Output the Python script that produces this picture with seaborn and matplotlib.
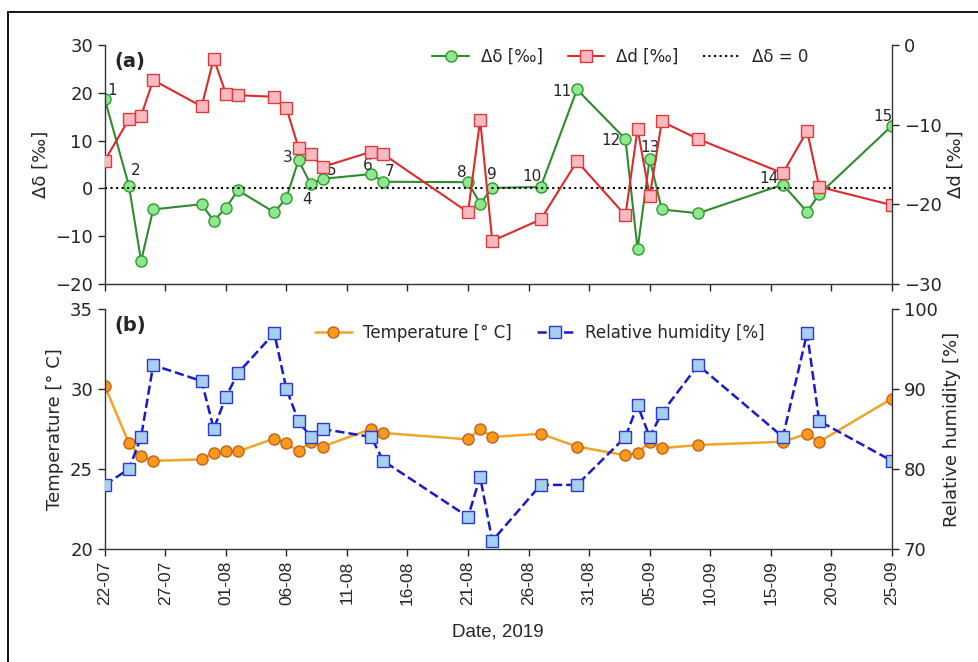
import numpy as np
import pandas as pd
import matplotlib
matplotlib.use("Agg")
import matplotlib.pyplot as plt
import matplotlib.dates as mdates
from matplotlib.patches import Rectangle
import seaborn as sns

#%% data
dates = ['2019-07-22', '2019-07-24', '2019-07-25', '2019-07-26', '2019-07-30',
         '2019-07-31', '2019-08-01', '2019-08-02', '2019-08-05', '2019-08-06',
         '2019-08-07', '2019-08-08', '2019-08-09', '2019-08-13', '2019-08-14',
         '2019-08-21', '2019-08-22', '2019-08-23', '2019-08-27', '2019-08-30',
         '2019-09-03', '2019-09-04', '2019-09-05', '2019-09-06', '2019-09-09',
         '2019-09-16', '2019-09-18', '2019-09-19', '2019-09-25']

d_delta = [18.7, 0.5, -15.2, -4.4, -3.3, -6.8, -4.1, -0.4, -5.0, -2.0,
           5.9, 0.9, 2.0, 3.0, 1.4, 1.3, -3.2, 0.1, 0.3, 20.7,
           10.3, -12.7, 6.2, -4.4, -5.2, 0.8, -4.9, -1.2, 13.1]

d_dexc = [-14.5, -9.3, -8.9, -4.4, -7.7, -1.7, -6.1, -6.3, -6.5, -7.9,
          -12.9, -13.7, -15.3, -13.4, -13.7, -21.0, -9.4, -24.6, -21.9, -14.6,
          -21.4, -10.5, -19.0, -9.6, -11.8, -16.1, -10.8, -17.8, -20.1]

temp = [30.2, 26.6, 25.8, 25.5, 25.6, 26.0, 26.1, 26.1, 26.9, 26.6,
        26.1, 26.7, 26.4, 27.5, 27.25, 26.85, 27.5, 27.0, 27.2, 26.4,
        25.85, 26.0, 26.7, 26.3, 26.5, 26.7, 27.2, 26.7, 29.4]

rh = [78, 80, 84, 93, 91, 85, 89, 92, 97, 90,
      86, 84, 85, 84, 81, 74, 79, 71, 78, 78,
      84, 88, 84, 87, 93, 84, 97, 86, 81]

# numbered sample labels: point index, label, offset in pixels
lab_idx = [0, 1, 10, 11, 12, 13, 14, 15, 17, 18, 19, 20, 22, 25, 28]
lab_txt = [str(i + 1) for i in range(15)]
lab_off = [(7, 9), (7, 16), (-11, 3), (-4, -15), (9, 8), (-3, 9), (6, 10),
           (-6, 10), (0, 13), (-9, 10), (-15, -2), (-15, -1), (0, 11),
           (-14, 6), (-9, 9)]

df = pd.DataFrame({'date': pd.to_datetime(dates), 'dd': d_delta,
                   'dx': d_dexc, 'T': temp, 'RH': rh})

#%% style
sns.set_style("ticks")
plt.rcParams['font.family'] = ['DejaVu Sans']
tfs = 13
ms = 8

fig = plt.figure(figsize=(9.79, 6.62), dpi=100)
ax1 = fig.add_axes([0.107, 0.571, 0.804, 0.361])
ax2 = fig.add_axes([0.107, 0.171, 0.804, 0.362], sharex=ax1)
ax1b = ax1.twinx()
ax2b = ax2.twinx()

#%% panel (a)
sns.lineplot(data=df, x='date', y='dd', ax=ax1, color='#2e8b2e', lw=1.5,
             marker='o', markersize=ms, markerfacecolor='#8fe88f',
             markeredgecolor='#2e9b2e', markeredgewidth=1.0,
             label='\u0394\u03b4 [\u2030]', legend=False)
sns.lineplot(data=df, x='date', y='dx', ax=ax1b, color='#dd2a2a', lw=1.5,
             marker='s', markersize=ms, markerfacecolor='#f9b9c0',
             markeredgecolor='#dd3a3a', markeredgewidth=1.0,
             label='\u0394d [\u2030]', legend=False)
zl = ax1.axhline(0, color='black', ls=':', lw=1.5, label='\u0394\u03b4 = 0')

for i, t, o in zip(lab_idx, lab_txt, lab_off):
    ax1.annotate(t, (df['date'][i], df['dd'][i]), xytext=o,
                 textcoords='offset pixels', ha='center', va='center',
                 fontsize=11)

ax1.set_ylim(-20, 30)
ax1b.set_ylim(-30, 0)
ax1.set_yticks([-20, -10, 0, 10, 20, 30])
ax1b.set_yticks([-30, -20, -10, 0])
ax1.set_ylabel('\u0394\u03b4 [\u2030]', fontsize=tfs)
ax1b.set_ylabel('\u0394d [\u2030]', fontsize=tfs)
ax1.text(0.012, 0.97, '(a)', transform=ax1.transAxes, fontsize=14,
         fontweight='bold', va='top')

h1, l1 = ax1.get_legend_handles_labels()
h2, l2 = ax1b.get_legend_handles_labels()
hh = [h1[0], h2[0], zl]
ll = [l1[0], l2[0], zl.get_label()]
ax1.legend(hh, ll, loc='upper center', bbox_to_anchor=(0.655, 1.05), ncol=3,
           frameon=False, fontsize=12, columnspacing=1.5, handlelength=2.2,
           handletextpad=0.7)

#%% panel (b)
sns.lineplot(data=df, x='date', y='T', ax=ax2, color='#f0a428', lw=1.8,
             marker='o', markersize=ms, markerfacecolor='#f99a1c',
             markeredgecolor='#c8601a', markeredgewidth=1.0,
             label='Temperature [\u00b0 C]', legend=False)
sns.lineplot(data=df, x='date', y='RH', ax=ax2b, color='#1a1acc', lw=1.8,
             ls='--', marker='s', markersize=ms, markerfacecolor='#a6cff0',
             markeredgecolor='#2a3ad0', markeredgewidth=1.0,
             label='Relative humidity [%]', legend=False)
ax2.set_ylim(20, 35)
ax2b.set_ylim(70, 100)
ax2.set_yticks([20, 25, 30, 35])
ax2b.set_yticks([70, 80, 90, 100])
ax2.set_ylabel('Temperature [\u00b0 C]', fontsize=tfs)
ax2b.set_ylabel('Relative humidity [%]', fontsize=tfs)
ax2.text(0.012, 0.97, '(b)', transform=ax2.transAxes, fontsize=14,
         fontweight='bold', va='top')

h1, l1 = ax2.get_legend_handles_labels()
h2, l2 = ax2b.get_legend_handles_labels()
ax2.legend(h1 + h2, l1 + l2, loc='upper center', bbox_to_anchor=(0.553, 1.0),
           ncol=2, frameon=False, fontsize=12, columnspacing=1.5,
           handlelength=2.2, handletextpad=0.7)

#%% x axis
xt = pd.date_range('2019-07-22', '2019-09-25', freq='5D')
ax2.set_xlim(xt[0], xt[-1])
ax2.set_xticks(xt)
ax2.xaxis.set_major_formatter(mdates.DateFormatter('%d-%m'))
plt.setp(ax1.get_xticklabels(), visible=False)
for lab in ax2.get_xticklabels():
    lab.set_rotation(90)
    lab.set_fontfamily('Liberation Sans')
    lab.set_fontsize(12.5)
ax1.set_xlabel('')
ax2.set_xlabel('Date, 2019', fontsize=13.5, fontfamily='Liberation Sans',
               labelpad=13)

for a in (ax1, ax1b, ax2, ax2b):
    a.tick_params(labelsize=tfs, width=1.0, length=5)
    a.spines['top'].set_visible(False)
    for s in ('left', 'right', 'bottom'):
        a.spines[s].set_linewidth(1.0)
        a.spines[s].set_color('#333333')
for a in (ax1, ax2):
    a.spines['right'].set_visible(False)
for a in (ax1b, ax2b):
    a.spines['left'].set_visible(False)
    a.spines['bottom'].set_visible(False)
ax2.tick_params(axis='x', labelsize=12.5)

# outer frame of the figure
fig.patches.append(Rectangle((8 / 979, -0.1), 1.1, 1.1 - 12 / 662,
                             transform=fig.transFigure, fill=False,
                             edgecolor='black', lw=1.3))

fig.savefig('out.png', dpi=100)
